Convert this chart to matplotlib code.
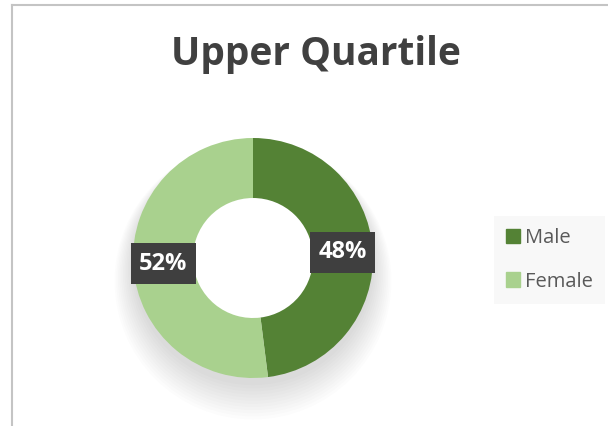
import matplotlib.pyplot as plt
from matplotlib.lines import Line2D
from matplotlib.patches import Circle

categories = ['Male', 'Female']
shares = [48, 52]
colors = ['#548235', '#A9D18E']
title = 'Upper Quartile'

W, H = 608, 426
fig = plt.figure(figsize=(W / 100, H / 100), dpi=100)
fig.patch.set_facecolor('white')

# chart frame (left and top edges only visible)
fig.add_artist(Line2D([12 / W, 12 / W], [0, 1 - 5 / H], color='#C4C4C4', lw=1.5))
fig.add_artist(Line2D([12 / W, 1], [1 - 5 / H, 1 - 5 / H], color='#C4C4C4', lw=1.5))

# donut: centre (253, 258) px, outer radius 120 px
cx, cy, r = 253, 258, 120
half = 170
ax = fig.add_axes([(cx - half) / W, (H - cy - half) / H, 2 * half / W, 2 * half / H])

# soft shadow under the ring
for i in range(12):
    ax.add_patch(Circle((0, -0.06 - 0.012 * i), 1.0 + 0.014 * i, color='black',
                        alpha=0.012, lw=0, zorder=0))

wedges, _, autotexts = ax.pie(shares, colors=colors, startangle=90, counterclock=False,
                              radius=1.0, autopct='%d%%', pctdistance=0.75,
                              wedgeprops=dict(width=0.5, edgecolor='none'))
for w in wedges:
    w.set_zorder(2)
for t in autotexts:
    t.set_color('white')
    t.set_fontsize(17)
    t.set_fontweight('bold')
    t.set_family('Open Sans')
    t.set_zorder(5)
    t.set_bbox(dict(boxstyle='square,pad=0.35', facecolor='#3F3F3F', edgecolor='none'))

# inner hole
ax.add_patch(Circle((0, 0), 0.5, color='white', zorder=1))

lim = half / r
ax.set_xlim(-lim, lim)
ax.set_ylim(-lim, lim)
ax.set_aspect('equal')
ax.axis('off')

fig.text(316 / W, 1 - 55 / H, title, ha='center', va='center', fontsize=28,
         fontweight='bold', color='#404040', family='Open Sans')

handles = [plt.Rectangle((0, 0), 1, 1, color=c) for c in colors]
leg = fig.legend(handles, categories, loc='center left', bbox_to_anchor=(484 / W, 1 - 260 / H),
                 frameon=True, handlelength=0.7, handleheight=0.7,
                 handletextpad=0.25, labelspacing=1.15, borderpad=0.6,
                 prop={'family': 'Open Sans', 'size': 14.5})
leg.get_frame().set_facecolor('#F7F7F7')
leg.get_frame().set_edgecolor('none')
leg.get_frame().set_boxstyle('square', pad=0)
for t in leg.get_texts():
    t.set_color('#595959')

fig.savefig('out.png', dpi=100)
